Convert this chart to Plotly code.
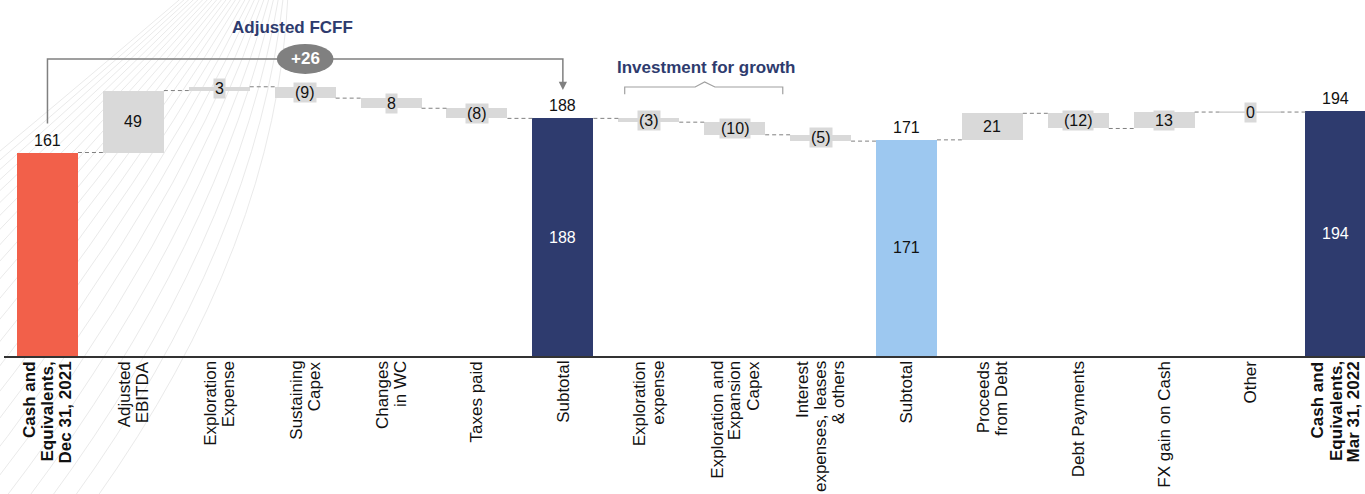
import plotly.graph_objects as go
import numpy as np

# ---------------- data ----------------
categories = [
    "<b>Cash and<br>Equivalents,<br>Dec 31, 2021</b>",
    "Adjusted<br>EBITDA",
    "Exploration<br>Expense",
    "Sustaining<br>Capex",
    "Changes<br>in WC",
    "Taxes paid",
    "Subtotal",
    "Exploration<br>expense",
    "Exploration and<br>Expansion<br>Capex",
    "Interest<br>expenses, leases<br>& others",
    "Subtotal",
    "Proceeds<br>from Debt",
    "Debt Payments",
    "FX gain on Cash",
    "Other",
    "<b>Cash and<br>Equivalents,<br>Mar 31, 2022</b>",
]
measures = ["absolute", "relative", "relative", "relative", "relative", "relative", "total",
            "relative", "relative", "relative", "total",
            "relative", "relative", "relative", "relative", "total"]
values = [161, 49, 3, -9, -8, -8, 188, -3, -10, -5, 171, 21, -12, 13, 0, 194]
value_labels = ["161", "49", "3", "(9)", "8", "(8)", "188", "(3)", "(10)", "(5)", "171",
                "21", "(12)", "13", "0", "194"]
bar_colors = ["#F2604A", "#D9D9D9", "#D9D9D9", "#D9D9D9", "#D9D9D9", "#D9D9D9", "#2E3B6E",
              "#D9D9D9", "#D9D9D9", "#D9D9D9", "#9DC8F0",
              "#D9D9D9", "#D9D9D9", "#D9D9D9", "#D9D9D9", "#2E3B6E"]
inner_label_colors = {6: "#FFFFFF", 10: "#111111", 15: "#FFFFFF"}
fcff_total = "+26"

FONT = "Liberation Sans, Arial, sans-serif"
NAVY_TXT = "#2E3B6E"
BAR_W = 0.71

# ---------------- waterfall geometry ----------------
idx = list(range(len(values)))
bases, heights, levels = [], [], []
level = 0
for m, v in zip(measures, values):
    if m in ("absolute", "total"):
        bases.append(0)
        heights.append(v)
        level = v
    else:
        start = level
        end = start + v
        bases.append(min(start, end))
        heights.append(abs(v))
        level = end
    levels.append(level)

fig = go.Figure()

# decorative background curves (left side)
W, H = 1365, 494
ml, mr, mt, mb = 4, 0, 0, 138
pw, ph = W - ml - mr, H - mt - mb


def pp(px, py):
    return (px - ml) / pw, (H - mb - py) / ph


n_curves = 24
bx = np.linspace(-430, 95, n_curves)
tx = np.linspace(185, 288, n_curves)
for k in range(n_curves):
    t = k / (n_curves - 1)
    x0, y0 = pp(bx[k], 500)
    x2, y2 = pp(tx[k], -5)
    cx = (bx[k] + tx[k]) / 2 + 15 + 70 * t ** 2
    cy = 245
    x1, y1 = pp(cx, cy)
    fig.add_shape(type="path", xref="paper", yref="paper", layer="below",
                  path=f"M {x0},{y0} Q {x1},{y1} {x2},{y2}",
                  line=dict(color="#EAEAEA", width=1))

fig.add_trace(go.Bar(
    x=idx, y=heights, base=bases, width=BAR_W,
    marker=dict(color=bar_colors, line=dict(width=0)),
    hoverinfo="skip", showlegend=False,
))

# connectors
cx_, cy_ = [], []
for i in range(len(values) - 1):
    cx_ += [i + BAR_W / 2, i + 1 - BAR_W / 2, None]
    cy_ += [levels[i], levels[i], None]
fig.add_trace(go.Scatter(x=cx_, y=cy_, mode="lines",
                         line=dict(color="#808080", width=1, dash="4px,3px"),
                         hoverinfo="skip", showlegend=False))

# zero-height bars drawn as a thin line
zx, zy = [], []
for i, h in enumerate(heights):
    if h == 0:
        zx += [i - BAR_W / 2, i + BAR_W / 2, None]
        zy += [levels[i], levels[i], None]
if zx:
    fig.add_trace(go.Scatter(x=zx, y=zy, mode="lines",
                             line=dict(color="#C8C8C8", width=1.2),
                             hoverinfo="skip", showlegend=False))

annotations = []
for i, (m, v, lab) in enumerate(zip(measures, values, value_labels)):
    if m in ("absolute", "total"):
        annotations.append(dict(x=i, y=v, text=lab, showarrow=False, yanchor="bottom",
                                yshift=2, font=dict(size=16, color="#111111", family=FONT)))
        if i in inner_label_colors:
            annotations.append(dict(x=i, y=v / 2, text=lab, showarrow=False,
                                    font=dict(size=16, color=inner_label_colors[i], family=FONT)))
    else:
        annotations.append(dict(x=i, y=bases[i] + heights[i] / 2, text=lab, showarrow=False,
                                bgcolor=bar_colors[i], borderpad=1,
                                font=dict(size=16, color="#111111", family=FONT)))

# category labels (rotated, tight line spacing)
LINE_GAP = 18
for i, cat in enumerate(categories):
    bold = cat.startswith("<b>")
    raw = cat.replace("<b>", "").replace("</b>", "")
    lines = raw.split("<br>")
    n = len(lines)
    for j, ln in enumerate(lines):
        annotations.append(dict(
            x=i, xref="x", y=0, yref="paper", yanchor="top", xanchor="center",
            xshift=(j - (n - 1) / 2) * LINE_GAP, yshift=-3,
            text=f"<b>{ln}</b>" if bold else ln, textangle=-90, showarrow=False,
            font=dict(size=17, color="#111111", family=FONT)))

# Adjusted FCFF bracket
GRAY = "#808080"
y_br = 235
fig.add_shape(type="path", xref="x", yref="y",
              path=f"M 0,184 L 0,{y_br} L 6,{y_br} L 6,214",
              line=dict(color=GRAY, width=1.5))
annotations.append(dict(x=6, y=210.5, ax=6, ay=216, axref="x", ayref="y", text="",
                        showarrow=True, arrowhead=2, arrowsize=1.1, arrowwidth=1.5,
                        arrowcolor=GRAY))
fig.add_shape(type="circle", xref="x", yref="y",
              x0=3 - 0.33, x1=3 + 0.33, y0=y_br - 11.9, y1=y_br + 11.9,
              fillcolor=GRAY, line=dict(width=0))
annotations.append(dict(x=3, y=y_br, text=f"<b>{fcff_total}</b>", showarrow=False,
                        font=dict(size=17, color="#FFFFFF", family=FONT)))
annotations.append(dict(x=2.85, y=260, text="<b>Adjusted FCFF</b>", showarrow=False,
                        font=dict(size=17, color=NAVY_TXT, family=FONT)))

# Investment for growth brace
fig.add_shape(type="path", xref="x", yref="y",
              path="M 6.72,207 L 6.72,212.8 L 7.54,212.8 L 7.65,216.8 L 7.77,212.8 "
                   "L 8.56,212.8 L 8.56,207",
              line=dict(color="#A0A0A0", width=1.2))
annotations.append(dict(x=7.67, y=228, text="<b>Investment for growth</b>", showarrow=False,
                        font=dict(size=17, color=NAVY_TXT, family=FONT)))

fig.update_layout(
    width=W, height=H,
    margin=dict(l=ml, r=mr, t=mt, b=mb),
    paper_bgcolor="white", plot_bgcolor="rgba(0,0,0,0)",
    bargap=0, showlegend=False,
    font=dict(family=FONT, size=16, color="#111111"),
    annotations=annotations,
    xaxis=dict(
        range=[-0.506, -0.506 + pw / 85.9],
        tickmode="array", tickvals=idx, ticktext=categories, showticklabels=False,
        ticks="", showgrid=False, zeroline=False,
        showline=True, linecolor="#333333", linewidth=1.5,
        automargin=False, fixedrange=True,
    ),
    yaxis=dict(range=[0, ph / 1.264], visible=False, showgrid=False, zeroline=False,
               automargin=False, fixedrange=True),
)

fig.write_html("out.html")
